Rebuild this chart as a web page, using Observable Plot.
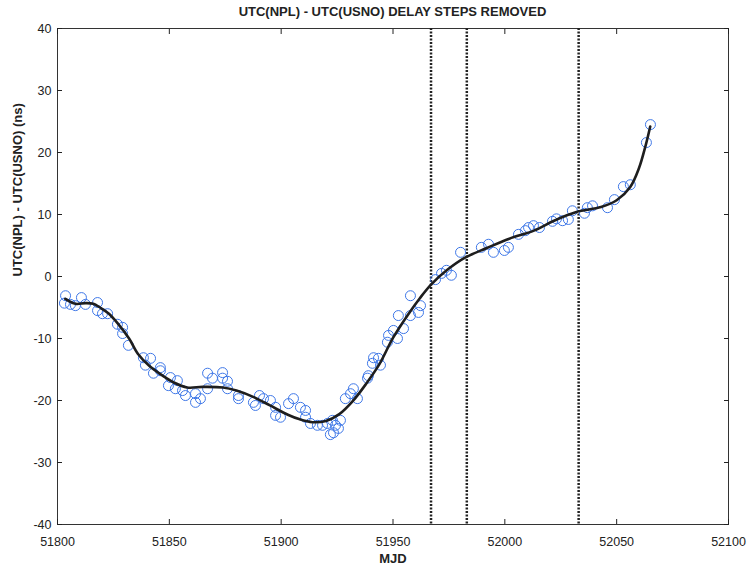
<!DOCTYPE html>
<html>
<head>
<meta charset="utf-8">
<script src="https://cdn.jsdelivr.net/npm/d3@7"></script>
<script src="https://cdn.jsdelivr.net/npm/@observablehq/plot@0.6"></script>
<style>
  html, body { margin: 0; padding: 0; background: #fff; }
  #wrap { position: relative; width: 750px; height: 567px; font-family: "Liberation Sans", Arial, sans-serif; }
  #title { position: absolute; left: 57px; width: 671px; top: 4px; text-align: center; font-weight: bold; font-size: 13px; color: #222; }
</style>
</head>
<body>
<div id="wrap"><div id="title">UTC(NPL) - UTC(USNO) DELAY STEPS REMOVED</div></div>
<script>
// Measured points (MJD, ns)
const mjd = [51803.6,51803.1,51805.8,51808.0,51810.7,51812.5,51817.9,51817.9,51820.1,51822.4,51826.8,51829.1,51829.1,51831.7,51838.4,51841.6,51839.3,51842.9,51846.0,51846.0,51850.5,51849.6,51853.6,51852.7,51855.9,51857.2,51861.7,51861.7,51863.9,51867.1,51869.3,51867.1,51873.8,51873.8,51876.0,51876.0,51880.9,51880.9,51887.6,51888.5,51890.3,51892.1,51895.2,51897.5,51897.5,51899.7,51903.3,51905.5,51908.6,51910.9,51910.9,51913.1,51916.2,51918.5,51920.7,51922.9,51924.3,51923.4,51922.0,51926.5,51925.6,51928.7,51931.0,51932.3,51934.1,51938.6,51939.0,51940.8,51941.3,51944.4,51943.5,51947.5,51948.0,51950.2,51952.0,51952.4,51954.7,51957.8,51957.8,51961.4,51962.3,51969.0,51971.7,51973.9,51976.1,51980.2,51989.5,51992.7,51994.9,51999.8,52001.6,52006.1,52009.2,52010.6,52012.8,52015.5,52021.3,52023.1,52025.8,52028.4,52030.2,52035.6,52036.9,52039.2,52045.9,52049.0,52053.0,52056.1,52063.3,52065.1];
const offset = [-3.1,-4.3,-4.5,-4.7,-3.4,-4.5,-4.2,-5.5,-6.0,-6.0,-7.7,-8.2,-9.2,-11.1,-13.1,-13.2,-14.3,-15.6,-14.7,-15.2,-16.3,-17.6,-16.8,-18.1,-18.4,-19.2,-18.9,-20.3,-19.7,-15.6,-16.4,-18.1,-15.5,-16.4,-16.9,-18.1,-19.2,-19.7,-20.3,-20.8,-19.2,-19.7,-20.0,-21.1,-22.4,-22.7,-20.5,-19.7,-21.1,-21.6,-22.7,-23.7,-24.0,-24.0,-23.7,-23.2,-24.0,-25.2,-25.5,-23.2,-24.5,-19.7,-18.9,-18.1,-19.7,-16.4,-16.0,-14.0,-13.1,-14.3,-13.2,-10.6,-9.5,-8.7,-10.0,-6.3,-8.4,-6.3,-3.1,-5.8,-4.7,-0.5,0.5,1.0,0.2,3.9,4.7,5.2,3.9,4.2,4.7,6.8,7.4,7.9,8.2,7.9,8.9,9.3,9.0,9.2,10.6,10.2,11.1,11.4,11.1,12.4,14.5,14.8,21.6,24.5];
// Smoothed fit
const fitMjd = [51803.5,51808,51812.5,51816,51819,51823,51827,51832,51836,51841,51847,51852,51858,51865,51874,51880,51888,51895,51903,51908,51914,51920,51926,51932,51938,51944,51950,51957,51962,51967,51974,51982,51992,52002,52013,52022,52032,52043,52050,52056,52060,52063,52065];
const fitVal = [-3.6,-4.4,-4.3,-4.4,-5.0,-6.0,-7.6,-10.0,-12.5,-14.4,-16.0,-17.1,-17.9,-17.8,-17.9,-18.4,-19.5,-20.8,-22.3,-23.0,-23.5,-23.3,-22.2,-20.1,-17.3,-14.1,-9.9,-6.0,-3.5,-1.3,1.0,3.0,4.6,6.1,7.4,9.0,10.4,11.2,12.3,14.4,17.5,21.2,24.2];
// Delay step epochs
const steps = [51967, 51983, 52033];
const xTicks = [51800,51850,51900,51950,52000,52050,52100];
const yTicks = [-40,-30,-20,-10,0,10,20,30,40];

const points = mjd.map((m, i) => ({mjd: m, v: offset[i]}));
const fit = fitMjd.map((m, i) => ({mjd: m, v: fitVal[i]}));

const chart = Plot.plot({
  width: 750, height: 567,
  marginLeft: 57, marginRight: 22, marginTop: 28, marginBottom: 43,
  style: {fontFamily: "Liberation Sans, Arial, sans-serif", fontSize: "12px", color: "#222", background: "white"},
  x: {domain: [51800, 52100]},
  y: {domain: [-40, 40]},
  marks: [
    Plot.frame({stroke: "#333", strokeWidth: 1}),
    Plot.axisX({ticks: xTicks, tickSize: -5, tickFormat: d => String(d), label: null, tickPadding: 18, fontSize: 12.5}),
    Plot.axisX({anchor: "top", ticks: xTicks, tickSize: -5, tickFormat: () => "", label: null}),
    Plot.axisY({ticks: yTicks, tickSize: -5, tickFormat: d => String(d), label: null, tickPadding: 11, fontSize: 12.5}),
    Plot.axisY({anchor: "right", ticks: yTicks, tickSize: -5, tickFormat: () => "", label: null}),
    Plot.ruleX(steps, {stroke: "#222", strokeWidth: 2.5, strokeDasharray: "2,1.5"}),
    Plot.dot(points, {x: "mjd", y: "v", r: 5, stroke: "#3f78e8", strokeWidth: 1, fill: "none"}),
    Plot.line(fit, {x: "mjd", y: "v", stroke: "#1e1e1e", strokeWidth: 2.6, curve: "catmull-rom"}),
    Plot.text(["MJD"], {frameAnchor: "bottom", dy: 38, fontWeight: "bold", fontSize: 13}),
    Plot.text(["UTC(NPL) - UTC(USNO) (ns)"], {frameAnchor: "left", dx: -40, rotate: -90, fontWeight: "bold", fontSize: 13})
  ]
});
document.getElementById("wrap").appendChild(chart);
</script>
</body>
</html>
